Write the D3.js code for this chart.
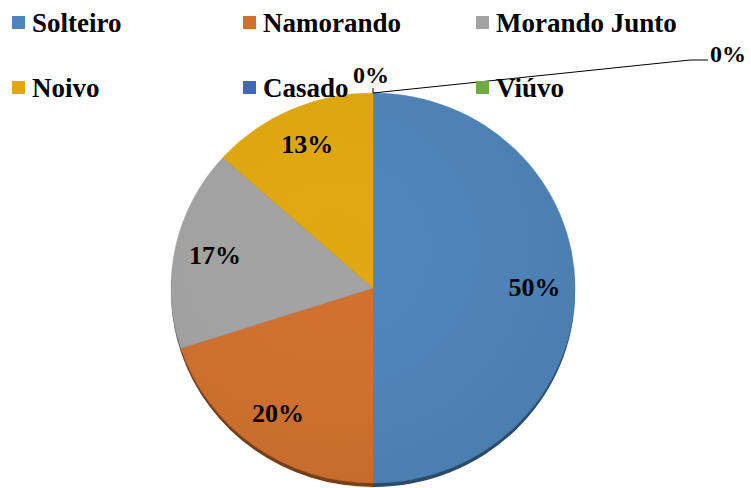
<!DOCTYPE html>
<html>
<head>
<meta charset="utf-8">
<script src="https://cdn.jsdelivr.net/npm/d3@7"></script>
</head>
<body style="margin:0">
<svg id="chart" width="751" height="488"></svg>
<script>
const categories = ["Solteiro", "Namorando", "Morando Junto", "Noivo", "Casado", "Viúvo"];
const values = [30, 12, 10, 8, 0, 0];
const labels = ["50%", "20%", "17%", "13%", "0%", "0%"];
const colors = ["#4E84B9", "#D0702E", "#A3A3A3", "#E0A80F", "#4169B3", "#6FAB45"];

const svg = d3.select("#chart");
const cx = 373, cy = 288, rx = 202, ry = 195;

const data = categories.map((c, i) => ({ name: c, value: values[i], label: labels[i], color: colors[i] }));

const pie = d3.pie().value(d => d.value).sort(null);
const arcs = pie(data);
const arc = d3.arc().innerRadius(0).outerRadius(ry);

// 3D-ish shadow / side
const shadow = svg.append("g")
  .attr("transform", `translate(${cx},${cy + 4}) scale(${rx / ry},1)`);
shadow.selectAll("path").data(arcs.filter(d => d.value > 0)).join("path")
  .attr("d", arc)
  .attr("fill", d => d3.color(d.data.color).darker(1.6));

const g = svg.append("g")
  .attr("transform", `translate(${cx},${cy}) scale(${rx / ry},1)`);
g.selectAll("path").data(arcs.filter(d => d.value > 0)).join("path")
  .attr("d", arc)
  .attr("fill", d => d.data.color)
  .attr("stroke", d => d.data.color)
  .attr("stroke-width", 0.5);

// subtle lighting overlay
const defs = svg.append("defs");
const grad = defs.append("radialGradient").attr("id", "light")
  .attr("cx", "40%").attr("cy", "40%").attr("r", "65%");
grad.append("stop").attr("offset", "0%").attr("stop-color", "#fff").attr("stop-opacity", 0.0);
grad.append("stop").attr("offset", "100%").attr("stop-color", "#000").attr("stop-opacity", 0.05);
g.append("circle").attr("r", ry).attr("fill", "url(#light)");

function txt(x, y, s, size, anchor) {
  return svg.append("text")
    .attr("x", x).attr("y", y)
    .attr("text-anchor", anchor || "start")
    .attr("font-family", "Liberation Serif")
    .style("font-family", '"Liberation Serif"')
    .style("font-weight", "bold")
    .style("font-size", size + "px")
    .text(s);
}

// percentage labels for non-zero slices
const labelArc = d3.arc().innerRadius(ry * 0.8).outerRadius(ry * 0.8);
arcs.filter(d => d.value > 0).forEach(d => {
  const [x, y] = labelArc.centroid(d);
  txt(cx + x * rx / ry, cy + y + 8, d.data.label, 26, "middle");
});

// zero slices: labels at the top of the pie
const topX = cx, topY = cy - ry;
const zeros = arcs.filter(d => d.value === 0);
svg.append("line")
  .attr("x1", topX).attr("y1", topY).attr("x2", topX).attr("y2", topY - 5)
  .attr("stroke", "#000").attr("stroke-width", 1);
txt(topX - 2, topY - 10, zeros[0].data.label, 24, "middle");
svg.append("path")
  .attr("d", `M${topX},${topY} L${topX + 317},${topY - 33} L${topX + 335},${topY - 33}`)
  .attr("fill", "none").attr("stroke", "#000").attr("stroke-width", 1);
txt(topX + 337, topY - 31, zeros[1].data.label, 24, "start");

// legend
const legendCols = [12, 243, 476];
const legendRows = [32, 97];
data.forEach((d, i) => {
  const col = i % 3, row = Math.floor(i / 3);
  const x = legendCols[col], y = legendRows[row];
  svg.append("rect")
    .attr("x", x).attr("y", y - 16).attr("width", 13).attr("height", 13)
    .attr("fill", d.color);
  txt(x + 20, y, d.name, 27, "start");
});
</script>
</body>
</html>
